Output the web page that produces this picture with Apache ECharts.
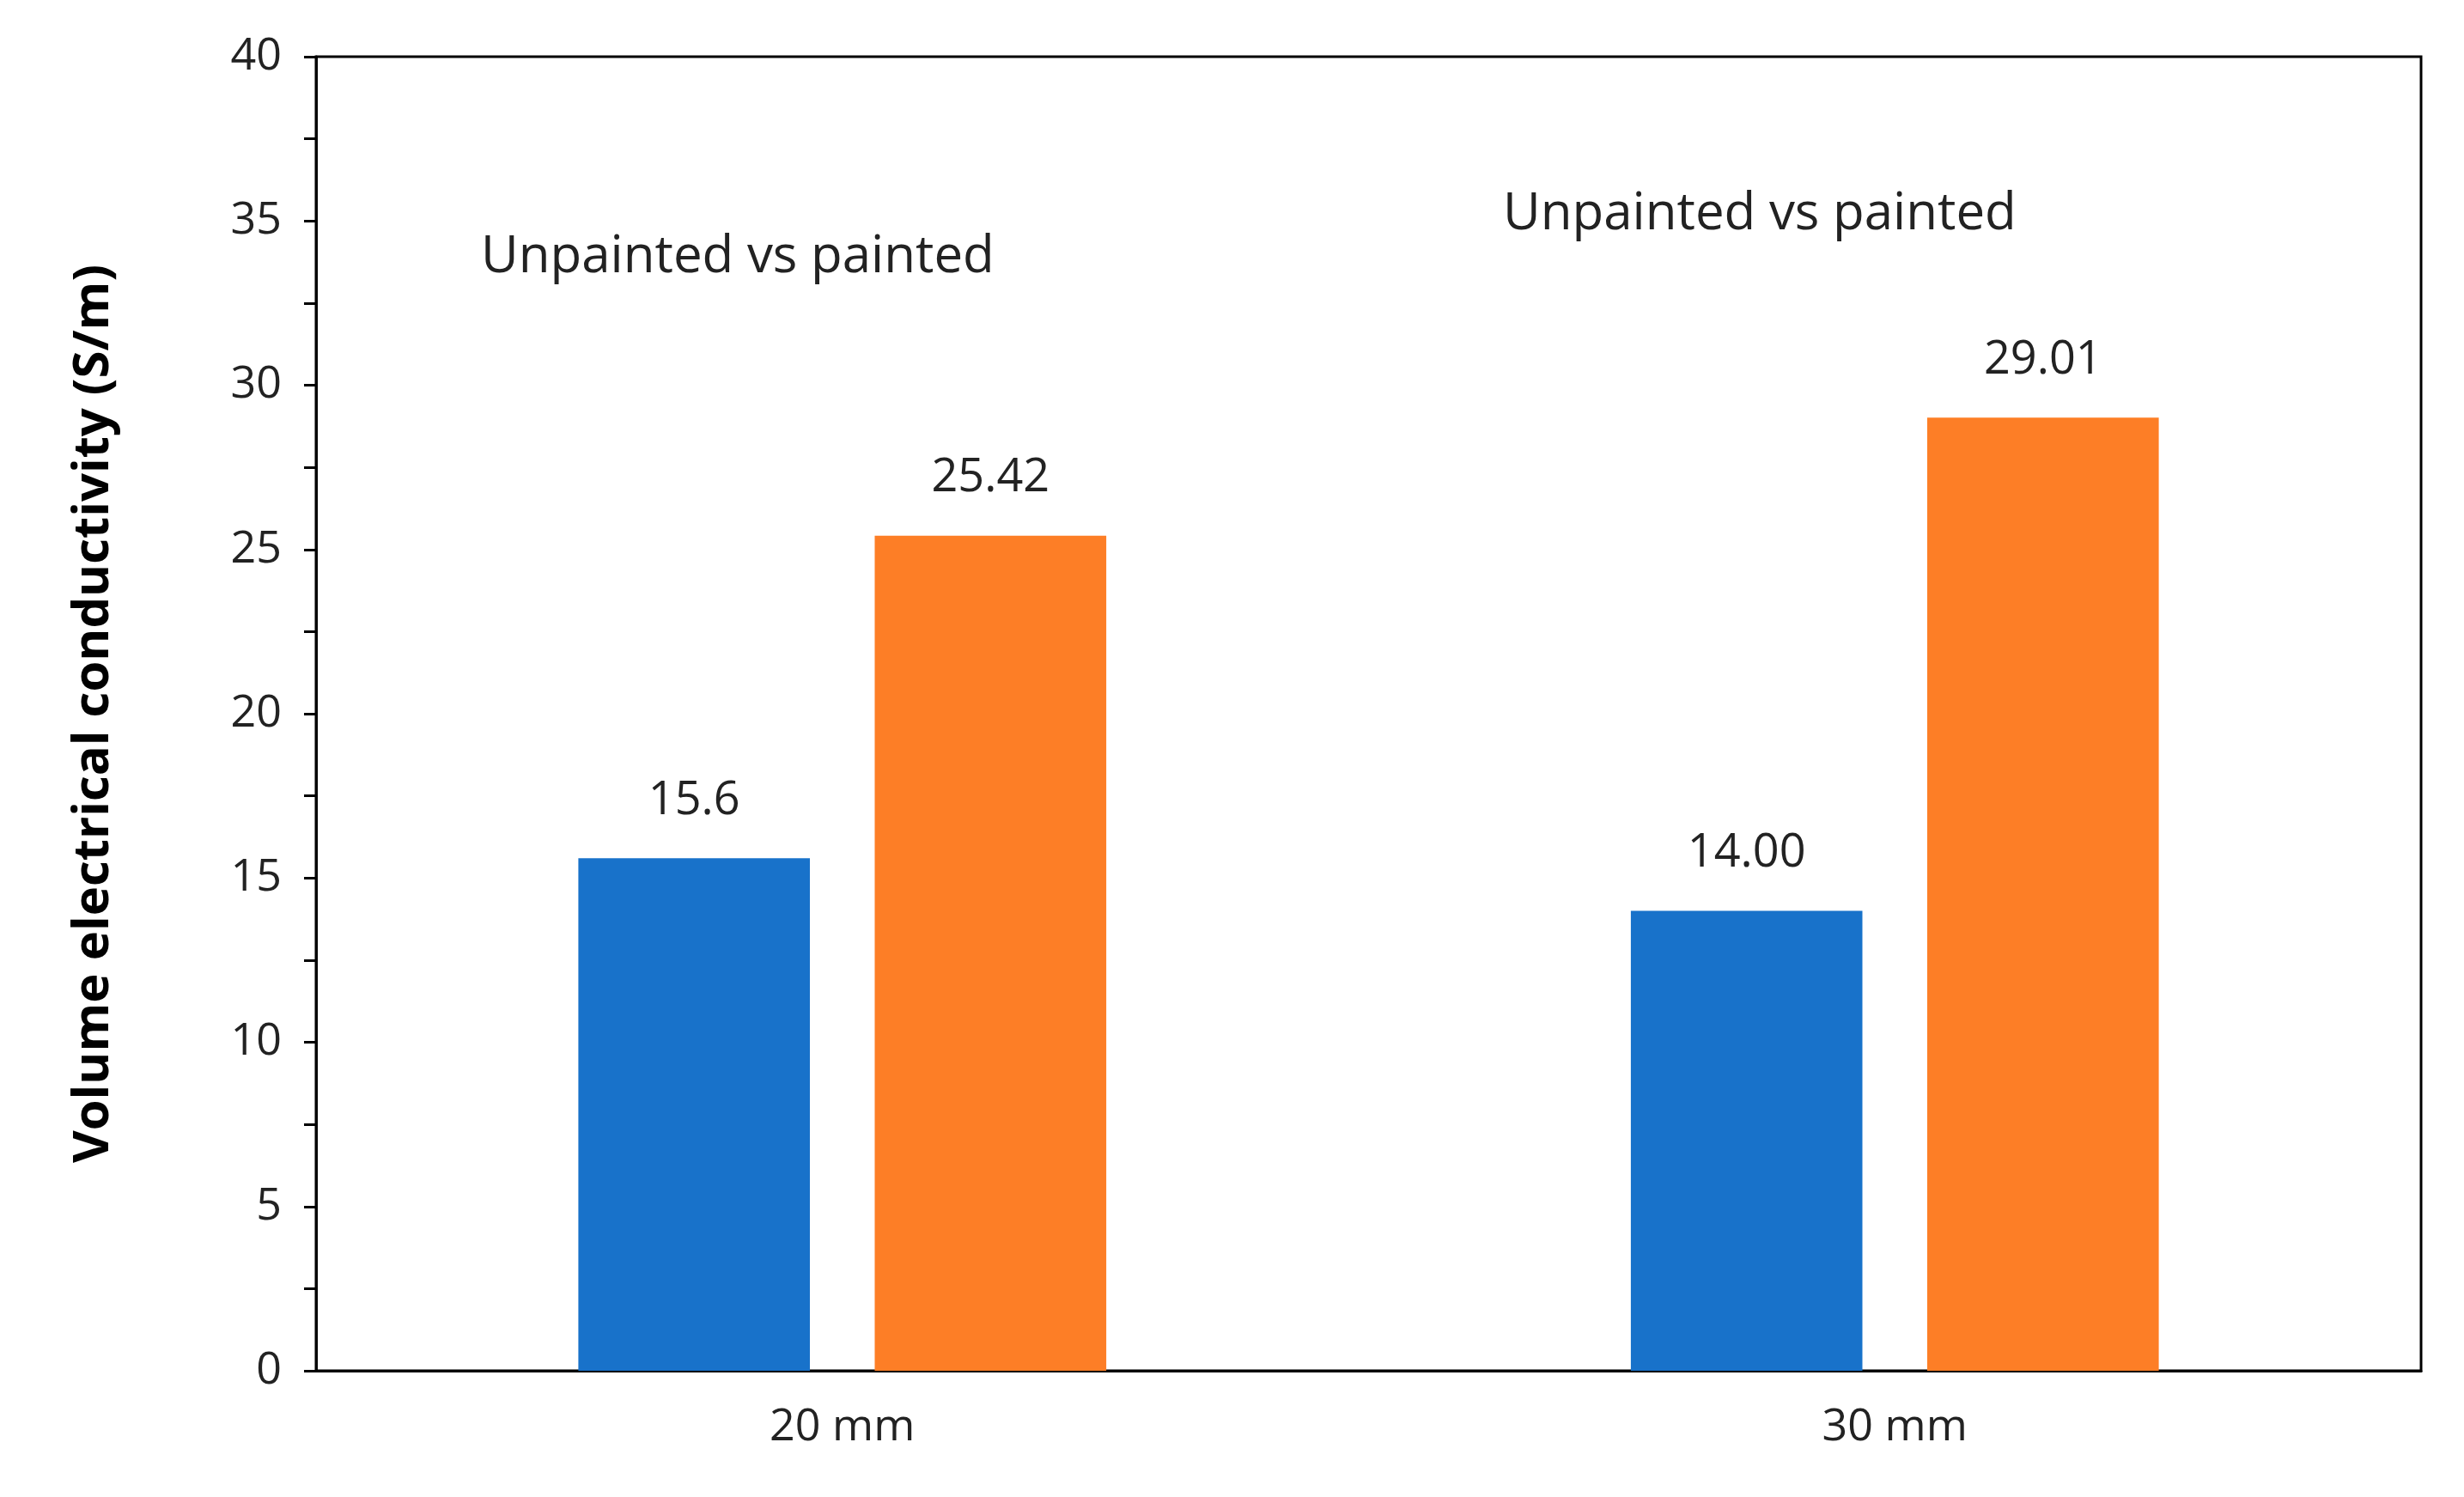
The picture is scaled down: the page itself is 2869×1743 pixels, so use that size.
<!DOCTYPE html>
<html><head><meta charset="utf-8">
<script src="https://cdn.jsdelivr.net/npm/echarts@6/dist/echarts.min.js"></script>
<style>html,body{margin:0;padding:0;background:#fff}#c{width:2869px;height:1743px}</style>
</head><body><div id="c"></div>
<script>
const categories = ['20 mm', '30 mm'];
const unpainted = [15.6, 14.00];
const painted = [25.42, 29.01];
const unpaintedLabels = ['15.6', '14.00'];
const paintedLabels = ['25.42', '29.01'];
const yTicks = [0, 5, 10, 15, 20, 25, 30, 35, 40];
const annotation = 'Unpainted vs painted';

const chart = echarts.init(document.getElementById('c'));
const font = 'Open Sans, Noto Sans, sans-serif';
chart.setOption({
  animation: false,
  grid: {left: 368, right: 50, top: 66, bottom: 147, show: true, borderColor: '#000', borderWidth: 3},
  xAxis: {type: 'category', data: categories,
    axisLine: {lineStyle: {color: '#000', width: 3}}, axisTick: {show: false},
    axisLabel: {color: '#222', fontSize: 52, fontFamily: font, margin: 40}},
  yAxis: {type: 'value', min: 0, max: 40, interval: 5,
    name: 'Volume electrical conductivity (S/m)', nameLocation: 'middle', nameGap: 230,
    nameTextStyle: {fontSize: 58, fontWeight: 'bold', color: '#000', fontFamily: font},
    axisLine: {show: true, lineStyle: {color: '#000', width: 3}},
    axisTick: {show: true, inside: false, length: 14, lineStyle: {width: 3}},
    minorTick: {show: true, splitNumber: 2, length: 14, lineStyle: {color: '#000', width: 3}},
    splitLine: {show: false},
    axisLabel: {color: '#222', fontSize: 52, fontFamily: font, margin: 40,
      formatter: v => yTicks.includes(v) ? String(v) : ''}},
  series: [
    {type: 'bar', data: unpainted, barWidth: '22%', barGap: '28%', itemStyle: {color: '#1872CA'},
     label: {show: true, position: 'top', distance: 40, fontSize: 54, color: '#222', fontFamily: font,
       formatter: p => unpaintedLabels[p.dataIndex]}},
    {type: 'bar', data: painted, barWidth: '22%', itemStyle: {color: '#FD7E26'},
     label: {show: true, position: 'top', distance: 40, fontSize: 54, color: '#222', fontFamily: font,
       formatter: p => paintedLabels[p.dataIndex]}}
  ],
  graphic: [
    {type: 'text', left: 560, top: 270, style: {text: annotation, fontSize: 60, fill: '#222', fontFamily: font}},
    {type: 'text', left: 1750, top: 220, style: {text: annotation, fontSize: 60, fill: '#222', fontFamily: font}}
  ]
});
</script></body></html>
